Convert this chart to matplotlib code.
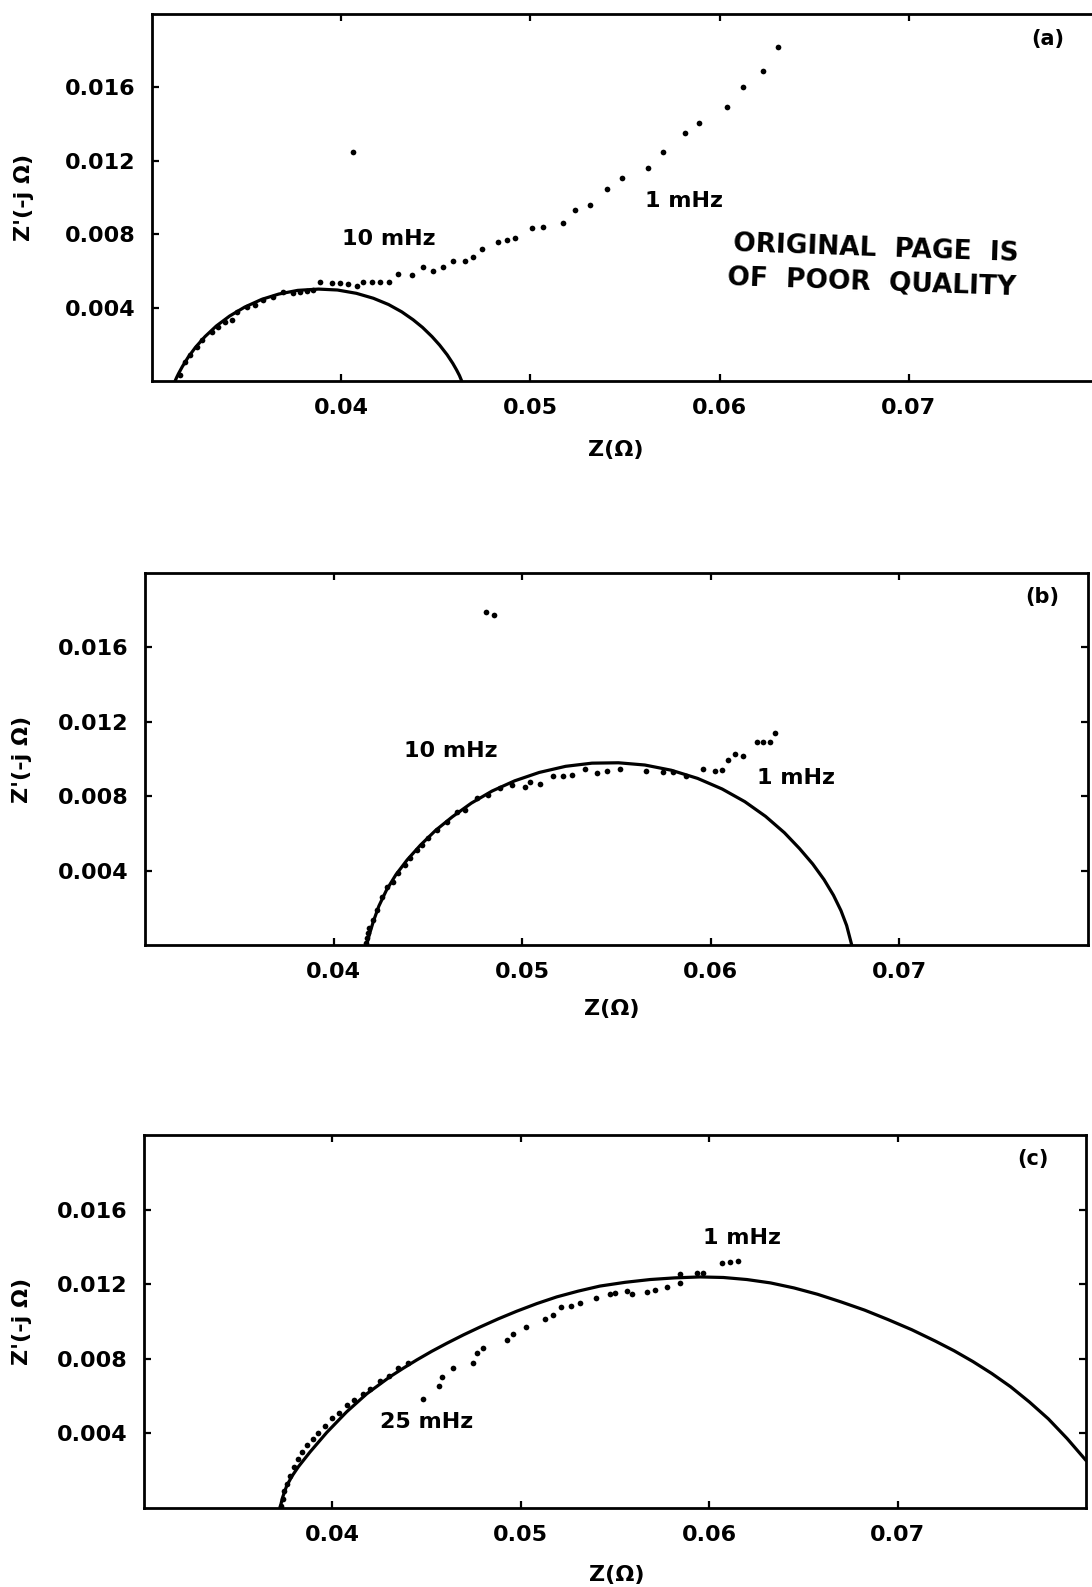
import numpy as np
import matplotlib.pyplot as plt

plt.rcParams['font.family'] = ['DejaVu Sans']
plt.rcParams['font.weight'] = 'bold'

# ---- panel (a) ----
fit_a_x = [0.03122, 0.0313, 0.0314, 0.0316, 0.0319, 0.0323, 0.0328, 0.0334, 0.0341,
           0.0349, 0.0358, 0.0367, 0.0377, 0.0388, 0.0398, 0.0408, 0.0417, 0.0425,
           0.0432, 0.0438, 0.0443, 0.0448, 0.0452, 0.0456, 0.0459, 0.0461, 0.04625,
           0.04637]
fit_a_y = [0.0, 0.00019, 0.00040, 0.00078, 0.00128, 0.00184, 0.00242, 0.00300, 0.00354,
           0.00403, 0.00445, 0.00474, 0.00494, 0.00501, 0.00496, 0.00478, 0.00451, 0.00417,
           0.00377, 0.00334, 0.00292, 0.00242, 0.00196, 0.00143, 0.00096, 0.00060, 0.00030,
           0.0]
pts_a_x = [0.03148, 0.03174, 0.03201, 0.03236, 0.03263, 0.03316, 0.03350, 0.03386,
           0.03421, 0.03448, 0.03501, 0.03544, 0.03588, 0.03641, 0.03694, 0.03747,
           0.03782, 0.03818, 0.03853, 0.03888, 0.03950, 0.03994, 0.04038, 0.04082,
           0.04117, 0.04161, 0.04205, 0.04254, 0.04302, 0.04373, 0.04434, 0.04487,
           0.04540, 0.04592, 0.04654, 0.04698, 0.04743, 0.04830, 0.04878, 0.04919,
           0.05007, 0.05068, 0.05174, 0.05236, 0.05315, 0.05403, 0.05483, 0.05623,
           0.05702, 0.05817, 0.05893, 0.06038, 0.06125, 0.06231, 0.06310, 0.04062]
pts_a_y = [0.00033, 0.00105, 0.00142, 0.00187, 0.00223, 0.00269, 0.00294, 0.00323,
           0.00332, 0.00378, 0.00405, 0.00414, 0.00441, 0.00459, 0.00487, 0.00478,
           0.00487, 0.00490, 0.00496, 0.00538, 0.00532, 0.00532, 0.00527, 0.00518,
           0.00541, 0.00538, 0.00541, 0.00541, 0.00583, 0.00578, 0.00620, 0.00601,
           0.00620, 0.00656, 0.00656, 0.00677, 0.00719, 0.00759, 0.00768, 0.00778,
           0.00832, 0.00841, 0.00863, 0.00932, 0.00959, 0.01046, 0.01105, 0.01159,
           0.01250, 0.01350, 0.01408, 0.01495, 0.01601, 0.01689, 0.01819, 0.01250]

# ---- panel (b) ----
fit_b_x = [0.04175, 0.0418, 0.0419, 0.0421, 0.0424, 0.0428, 0.0433, 0.0439, 0.0446,
           0.0454, 0.0463, 0.0473, 0.0484, 0.0496, 0.0509, 0.0523, 0.0537, 0.0551,
           0.0565, 0.0579, 0.0593, 0.0606, 0.0618, 0.0629, 0.0639, 0.0647, 0.0654,
           0.0660, 0.0665, 0.0669, 0.0672, 0.06747]
fit_b_y = [0.0, 0.00020, 0.00058, 0.00125, 0.00210, 0.00295, 0.00378, 0.00458, 0.00537,
           0.00616, 0.00690, 0.00763, 0.00828, 0.00883, 0.00928, 0.00961, 0.00978, 0.00980,
           0.00968, 0.00940, 0.00896, 0.00839, 0.00771, 0.00692, 0.00604, 0.00519, 0.00436,
           0.00352, 0.00268, 0.00185, 0.00105, 0.0]
pts_b_x = [0.04172, 0.04177, 0.04182, 0.04188, 0.04210, 0.04229, 0.04255, 0.04282,
           0.04317, 0.04343, 0.04379, 0.04405, 0.04441, 0.04467, 0.04502, 0.04547,
           0.04600, 0.04653, 0.04697, 0.04759, 0.04820, 0.04882, 0.04944, 0.05015,
           0.05041, 0.05094, 0.05165, 0.05218, 0.05262, 0.05333, 0.05395, 0.05448,
           0.05519, 0.05656, 0.05744, 0.05797, 0.05868, 0.05956, 0.06022, 0.06058,
           0.06093, 0.06128, 0.06172, 0.06243, 0.06278, 0.06314, 0.06340, 0.04810,
           0.04848]
pts_b_y = [0.00011, 0.00038, 0.00065, 0.00091, 0.00134, 0.00188, 0.00260, 0.00313,
           0.00340, 0.00385, 0.00430, 0.00466, 0.00511, 0.00538, 0.00574, 0.00618,
           0.00663, 0.00717, 0.00726, 0.00789, 0.00806, 0.00842, 0.00860, 0.00851,
           0.00878, 0.00866, 0.00909, 0.00909, 0.00914, 0.00945, 0.00923, 0.00937,
           0.00945, 0.00938, 0.00932, 0.00932, 0.00907, 0.00944, 0.00935, 0.00941,
           0.00995, 0.01027, 0.01016, 0.01093, 0.01093, 0.01093, 0.01141, 0.01792,
           0.01774]

# ---- panel (c) ----
fit_c_x = [0.03722, 0.03735, 0.03757, 0.03785, 0.03820, 0.03881, 0.03970, 0.04076,
           0.04182, 0.04306, 0.04377, 0.04448, 0.04527, 0.04607, 0.04695, 0.04783,
           0.04880, 0.04978, 0.05085, 0.05191, 0.05305, 0.05420, 0.05553, 0.05686,
           0.05818, 0.05951, 0.06075, 0.0620, 0.06325, 0.0645, 0.06575, 0.0670,
           0.06825, 0.0695, 0.07075, 0.0720, 0.0730, 0.0740, 0.0750, 0.0760, 0.0770,
           0.0780, 0.0790, 0.0800]
fit_c_y = [0.0, 0.00055, 0.00118, 0.00170, 0.00222, 0.00300, 0.00405, 0.00516,
           0.00612, 0.00704, 0.00750, 0.00794, 0.00840, 0.00883, 0.00928, 0.00970,
           0.01014, 0.01055, 0.01096, 0.01132, 0.01163, 0.01190, 0.01210, 0.01225,
           0.01234, 0.01239, 0.01236, 0.01225, 0.01207, 0.01180, 0.01146, 0.01105,
           0.01061, 0.01010, 0.00956, 0.00895, 0.00843, 0.00785, 0.00721, 0.00650, 0.00568,
           0.00478, 0.00372, 0.00255]
pts_c_x = [0.03725, 0.03735, 0.03745, 0.03760, 0.03775, 0.03795, 0.03815, 0.03840,
           0.03865, 0.03895, 0.03925, 0.03960, 0.04000, 0.04035, 0.04075, 0.04115,
           0.04160, 0.04200, 0.04250, 0.04300, 0.04350, 0.04400,
           0.04479, 0.04567, 0.04583, 0.04639, 0.04745, 0.04769, 0.04801, 0.04925,
           0.04960, 0.05028, 0.05128, 0.05169, 0.05212, 0.05266, 0.05314, 0.05399,
           0.05473, 0.05500, 0.05562, 0.05589, 0.05668, 0.05712, 0.05774, 0.05845,
           0.05845, 0.05934, 0.05969, 0.06066, 0.06110, 0.06154]
pts_c_y = [0.0001, 0.0005, 0.0009, 0.0013, 0.0017, 0.0022, 0.0026, 0.0030,
           0.0034, 0.0037, 0.0040, 0.0044, 0.0048, 0.0051, 0.0055, 0.0058,
           0.0061, 0.0064, 0.0068, 0.0071, 0.0075, 0.0078,
           0.00583, 0.00656, 0.00701, 0.00752, 0.00776, 0.00829, 0.00856, 0.00901,
           0.00933, 0.00969, 0.01013, 0.01035, 0.01079, 0.01085, 0.01098, 0.01128,
           0.01146, 0.01151, 0.01165, 0.01147, 0.01160, 0.01169, 0.01187, 0.01205,
           0.01253, 0.01258, 0.01258, 0.01315, 0.01321, 0.01324]

xticks = [0.04, 0.05, 0.06, 0.07]
xtick_labels = ['0.04', '0.05', '0.06', '0.07']
yticks = [0.004, 0.008, 0.012, 0.016]
ytick_labels = ['0.004', '0.008', '0.012', '0.016']

panels = [
    dict(rect=[0.1392, 0.7599, 0.8663, 0.2313], fx=fit_a_x, fy=fit_a_y, px=pts_a_x, py=pts_a_y,
         tag='(a)', tag_xy=(0.07736, 0.01864), ylab_x=-0.135, xlab=(0.49, -0.188),
         notes=[('10 mHz', 0.04004, 0.00774), ('1 mHz', 0.05606, 0.00981)]),
    dict(rect=[0.1328, 0.4045, 0.8636, 0.2344], fx=fit_b_x, fy=fit_b_y, px=pts_b_x, py=pts_b_y,
         tag='(b)', tag_xy=(0.07756, 0.01871), ylab_x=-0.13, xlab=(0.495, -0.172),
         notes=[('10 mHz', 0.04373, 0.01043), ('1 mHz', 0.06245, 0.00898)]),
    dict(rect=[0.1319, 0.0498, 0.8626, 0.2350], fx=fit_c_x, fy=fit_c_y, px=pts_c_x, py=pts_c_y,
         tag='(c)', tag_xy=(0.07719, 0.01871), ylab_x=-0.13, xlab=(0.502, -0.18),
         notes=[('25 mHz', 0.04253, 0.00461), ('1 mHz', 0.05967, 0.01448)]),
]

fig = plt.figure(figsize=(10.92, 15.87), dpi=100)

for p in panels:
    ax = fig.add_axes(p['rect'])
    ax.plot(p['fx'], p['fy'], color='black', lw=2.3, solid_capstyle='round',
            solid_joinstyle='round')
    ax.plot(p['px'], p['py'], 'o', color='black', ms=4.1, mew=0)
    ax.set_xlim(0.03, 0.08)
    ax.set_ylim(0, 0.02)
    ax.set_xticks(xticks)
    ax.set_xticklabels(xtick_labels)
    ax.set_yticks(yticks)
    ax.set_yticklabels(ytick_labels)
    ax.tick_params(direction='in', length=5, width=1.6, top=True,
                   right=(p['tag'] != '(a)'), labelsize=16, pad=12)
    for s in ax.spines.values():
        s.set_linewidth(2.0)
    ax.set_xlabel('Z(\u03a9)', fontsize=16, fontweight='bold', va='center')
    ax.xaxis.set_label_coords(*p['xlab'])
    ax.set_ylabel("Z'(-j \u03a9)", fontsize=16, fontweight='bold', va='center')
    ax.yaxis.set_label_coords(p['ylab_x'], 0.5)
    for txt, tx, ty in p['notes']:
        ax.text(tx, ty, txt, fontsize=16, fontweight='bold', ha='left', va='center')
    ax.text(p['tag_xy'][0], p['tag_xy'][1], p['tag'], fontsize=15, fontweight='bold',
            ha='center', va='center')
    if p['tag'] == '(a)':
        ax.text(0.06827, 0.00719, 'ORIGINAL  PAGE  IS', fontsize=19, fontweight='bold',
                ha='center', va='center', rotation=-2, rotation_mode='anchor')
        ax.text(0.06806, 0.00534, 'OF  POOR  QUALITY', fontsize=19, fontweight='bold',
                ha='center', va='center', rotation=-2, rotation_mode='anchor')

fig.savefig('out.png', dpi=100)
